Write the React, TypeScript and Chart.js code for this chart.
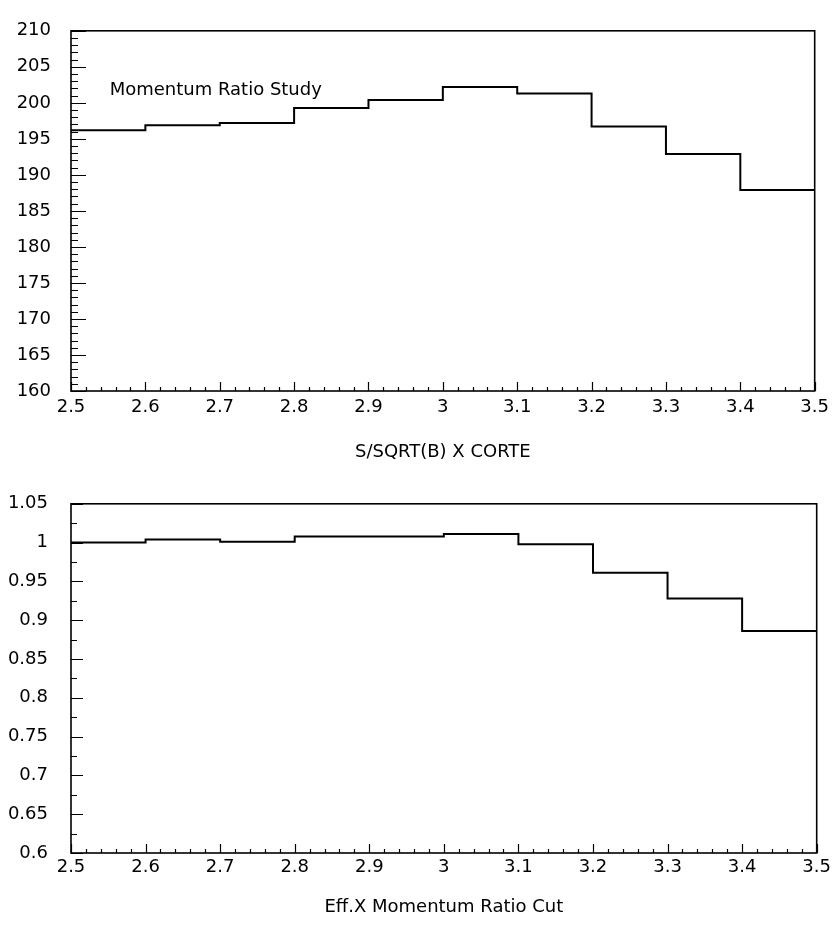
import { useEffect, useRef } from 'react';
import { Chart, registerables } from 'chart.js';

Chart.register(...registerables);

// ---------- data ----------
const binEdges = [2.5, 2.6, 2.7, 2.8, 2.9, 3.0, 3.1, 3.2, 3.3, 3.4, 3.5];
const significance = [196.2, 196.9, 197.2, 199.3, 200.4, 202.2, 201.3, 196.7, 192.9, 187.9];
const efficiency = [1.0, 1.004, 1.001, 1.008, 1.008, 1.011, 0.998, 0.961, 0.928, 0.886];
const xTickValues = [2.5, 2.6, 2.7, 2.8, 2.9, 3.0, 3.1, 3.2, 3.3, 3.4, 3.5];
const topYTickValues = [160, 165, 170, 175, 180, 185, 190, 195, 200, 205, 210];
const bottomYTickValues = [0.6, 0.65, 0.7, 0.75, 0.8, 0.85, 0.9, 0.95, 1.0, 1.05];
const topTitle = 'S/SQRT(B) X CORTE';
const bottomTitle = 'Eff.X Momentum Ratio Cut';
const noteText = 'Momentum Ratio Study';

const FONT = "'DejaVu Sans', sans-serif";

const fmt = (v: number) => parseFloat(Number(v).toFixed(3)).toString();

const histPoints = (vals: number[]) =>
  binEdges.map((x, i) => ({ x, y: vals[Math.min(i, vals.length - 1)] }));

const frameTicks = {
  id: 'frameTicks',
  afterDatasetsDraw(chart: any, _args: any, opts: any) {
    const { ctx, chartArea: a, scales } = chart;
    const x = scales.x;
    const y = scales.y;
    ctx.save();
    ctx.strokeStyle = '#000';
    ctx.lineWidth = 1.2;
    ctx.beginPath();
    // y ticks (inward, from left axis)
    const ny = Math.round((y.max - y.min) / opts.yMinor);
    for (let i = 0; i <= ny; i++) {
      const v = y.min + i * opts.yMinor;
      const py = Math.round(y.getPixelForValue(v)) + 0.5;
      const len = i % opts.yEvery === 0 ? opts.yMajorLen : opts.yMinorLen;
      ctx.moveTo(a.left, py);
      ctx.lineTo(a.left + len, py);
    }
    // x ticks (inward, from bottom axis)
    const nx = Math.round((x.max - x.min) / opts.xMinor);
    for (let i = 0; i <= nx; i++) {
      const v = x.min + i * opts.xMinor;
      const px = Math.round(x.getPixelForValue(v)) + 0.5;
      const len = i % opts.xEvery === 0 ? 9 : 4;
      ctx.moveTo(px, a.bottom);
      ctx.lineTo(px, a.bottom - len);
    }
    ctx.stroke();
    ctx.lineWidth = 1.6;
    ctx.strokeRect(a.left, a.top, a.right - a.left, a.bottom - a.top);
    if (opts.note) {
      ctx.fillStyle = '#000';
      ctx.font = `18px ${FONT}`;
      ctx.textAlign = 'left';
      ctx.textBaseline = 'middle';
      ctx.fillText(opts.note.text, x.getPixelForValue(opts.note.x), y.getPixelForValue(opts.note.y));
    }
    ctx.restore();
  },
};

function makeConfig(p: {
  values: number[];
  yMin: number;
  yMax: number;
  yTicks: number[];
  yMinor: number;
  yEvery: number;
  yMajorLen: number;
  yMinorLen: number;
  title: string;
  padTop: number;
  xAxisHeight: number;
  xLabelPad: number;
  titlePadBottom: number;
  yLabelPad: number;
  note?: { text: string; x: number; y: number };
}): any {
  return {
    type: 'line',
    data: {
      datasets: [
        {
          data: histPoints(p.values),
          stepped: 'before',
          borderColor: '#000',
          borderWidth: 2,
          pointRadius: 0,
          fill: false,
        },
      ],
    },
    options: {
      responsive: false,
      animation: false,
      layout: { padding: { left: 0, right: 18, top: p.padTop, bottom: 0 } },
      plugins: {
        legend: { display: false },
        tooltip: { enabled: false },
        frameTicks: {
          yMinor: p.yMinor,
          yEvery: p.yEvery,
          yMajorLen: p.yMajorLen,
          yMinorLen: p.yMinorLen,
          xMinor: 0.02,
          xEvery: 5,
          note: p.note,
        },
      },
      scales: {
        x: {
          type: 'linear',
          min: 2.5,
          max: 3.5,
          grid: { display: false, drawTicks: false },
          border: { display: false },
          afterBuildTicks: (s: any) => {
            s.ticks = xTickValues.map((v) => ({ value: v }));
          },
          afterFit: (s: any) => {
            s.height = p.xAxisHeight;
          },
          ticks: {
            autoSkip: false,
            maxRotation: 0,
            padding: p.xLabelPad,
            color: '#000',
            font: { family: FONT, size: 18 },
            callback: (v: any) => fmt(v),
          },
          title: {
            display: true,
            text: p.title,
            color: '#000',
            font: { family: FONT, size: 18 },
            padding: { top: 0, bottom: p.titlePadBottom },
          },
        },
        y: {
          type: 'linear',
          min: p.yMin,
          max: p.yMax,
          grid: { display: false, drawTicks: false },
          border: { display: false },
          afterBuildTicks: (s: any) => {
            s.ticks = p.yTicks.map((v) => ({ value: v }));
          },
          afterFit: (s: any) => {
            s.width = 71;
          },
          ticks: {
            autoSkip: false,
            padding: p.yLabelPad,
            color: '#000',
            font: { family: FONT, size: 18 },
            callback: (v: any) => fmt(v),
          },
        },
      },
    },
    plugins: [frameTicks],
  };
}

export default function App() {
  const topRef = useRef<HTMLCanvasElement>(null);
  const botRef = useRef<HTMLCanvasElement>(null);

  useEffect(() => {
    const c1 = new Chart(
      topRef.current!,
      makeConfig({
        values: significance,
        yMin: 160,
        yMax: 210,
        yTicks: topYTickValues,
        yMinor: 1,
        yEvery: 5,
        yMajorLen: 15,
        yMinorLen: 7,
        title: topTitle,
        padTop: 20,
        xAxisHeight: 79,
        xLabelPad: 6,
        titlePadBottom: 7,
        yLabelPad: 20,
        note: { text: noteText, x: 2.552, y: 201.7 },
      })
    );
    const c2 = new Chart(
      botRef.current!,
      makeConfig({
        values: efficiency,
        yMin: 0.6,
        yMax: 1.05,
        yTicks: bottomYTickValues,
        yMinor: 0.025,
        yEvery: 2,
        yMajorLen: 12,
        yMinorLen: 6,
        title: bottomTitle,
        padTop: 14,
        xAxisHeight: 73,
        xLabelPad: 4,
        titlePadBottom: 8,
        yLabelPad: 23,
      })
    );
    return () => {
      c1.destroy();
      c2.destroy();
    };
  }, []);

  return (
    <div style={{ position: 'absolute', left: 0, top: 0, width: 835, height: 926, background: '#fff' }}>
      <canvas ref={topRef} width={835} height={470} style={{ position: 'absolute', left: 0, top: 0, display: 'block' }} />
      <canvas ref={botRef} width={835} height={456} style={{ position: 'absolute', left: 0, top: 470, display: 'block' }} />
    </div>
  );
}
